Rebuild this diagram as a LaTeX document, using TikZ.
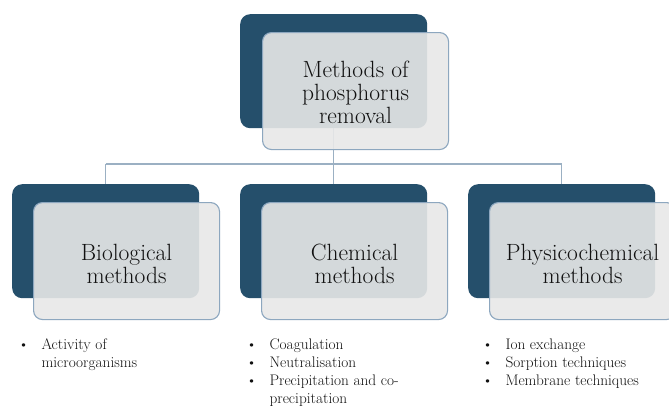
\documentclass[tikz,border=0pt]{standalone}
\definecolor{darkc}{HTML}{254F6B}
\definecolor{lightc}{HTML}{E8E8E8}
\definecolor{borderc}{HTML}{8DA7BF}
\definecolor{linec}{HTML}{9BB0C3}
\definecolor{textc}{HTML}{111111}
\begin{document}
\begin{tikzpicture}[x=1pt,y=-1pt,
  darkbox/.style={fill=darkc, draw=none, rounded corners=10pt, inner sep=0pt,
    minimum width=187pt, minimum height=114pt, anchor=north west},
  lightbox/.style={fill=lightc, fill opacity=0.9, draw=borderc, line width=1.1pt,
    rounded corners=9pt, inner sep=0pt, minimum width=186pt, minimum height=117pt,
    anchor=north west},
  conn/.style={draw=linec, line width=1.1pt},
  boxtext/.style={font=\fontsize{23.5}{23}\selectfont, align=center, text=textc, inner sep=0pt},
  listtext/.style={font=\fontsize{15.3}{18.3}\selectfont, text=textc, inner sep=0pt, anchor=base west}]
\clip (0,0) rectangle (669,405);
\fill[white] (0,0) rectangle (669,405);
% dark boxes
\node[darkbox] (d0) at (240,14) {};
\node[darkbox] (d1) at (12,184) {};
\node[darkbox] (d2) at (240,184) {};
\node[darkbox] (d3) at (468,184) {};
% connectors
\coordinate (hub) at (333.5,164);
\draw[conn] (d0.south) -- (d0.south |- hub);
\draw[conn] (d1.north |- hub) -- (d3.north |- hub);
\draw[conn] (d1.north) -- (d1.north |- hub);
\draw[conn] (d2.north) -- (d2.north |- hub);
\draw[conn] (d3.north) -- (d3.north |- hub);
% light boxes
\node[lightbox] (l0) at (262,32) {};
\node[lightbox] (l1) at (33,202) {};
\node[lightbox] (l2) at (261,202) {};
\node[lightbox] (l3) at (489,202) {};
% box texts
\node[boxtext] (t0) at ([yshift=-1pt]l0.center) {Methods of\\phosphorus\\removal};
\node[boxtext] (t1) at ([yshift=-2.5pt]l1.center) {Biological\\methods};
\node[boxtext] (t2) at ([yshift=-2.5pt]l2.center) {Chemical\\methods};
\node[boxtext] (t3) at ([yshift=-2.5pt]l3.center) {Physicochemical\\methods};
% lists
\node[listtext] (list1) at (17.8,349) {\begin{tabular}[t]{@{}l@{\hspace{12.5pt}}l@{}}\textbullet & Activity of\\ & microorganisms\end{tabular}};
\node[listtext] (list2) at (245.8,349) {\begin{tabular}[t]{@{}l@{\hspace{12.5pt}}l@{}}\textbullet & Coagulation\\ \textbullet & Neutralisation\\ \textbullet & Precipitation and co-\\ & precipitation\end{tabular}};
\node[listtext] (list3) at (481.8,349) {\begin{tabular}[t]{@{}l@{\hspace{12.5pt}}l@{}}\textbullet & Ion exchange\\ \textbullet & Sorption techniques\\ \textbullet & Membrane techniques\end{tabular}};
\end{tikzpicture}
\end{document}
